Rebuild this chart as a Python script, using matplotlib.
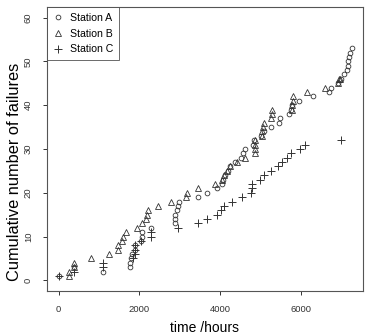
import numpy as np
import matplotlib
matplotlib.use("Agg")
import matplotlib.pyplot as plt

plt.rcParams['font.family'] = ['Liberation Sans', 'DejaVu Sans']

# station A (open circles)
a_hours = [0, 380, 1100, 1760, 1760, 1780, 1810, 1880, 1880, 2046, 2071, 2071, 2277,
           2870, 2875, 2890, 2940, 2965, 2970, 3449, 3672, 3919, 4030, 4066, 4110,
           4190, 4250, 4356, 4500, 4550, 4600, 4800, 4840, 5017, 5074, 5264, 5454,
           5487, 5693, 5760, 5784, 5948, 6295, 6690, 6740, 6900, 6990, 7054, 7130,
           7150, 7165, 7180, 7210, 7252]
a_fail = [1, 3, 2, 3, 4, 5, 6, 7, 8, 9, 10, 11, 12,
          13, 14, 15, 16, 17, 18, 19, 20, 21, 22, 23, 24,
          25, 26, 27, 28, 29, 30, 31, 32, 33, 34, 35, 36,
          37, 38, 39, 40, 41, 42, 43, 44, 45, 46, 47, 48,
          49, 50, 51, 52, 53]

# station B (open triangles)
b_hours = [250, 250, 380, 380, 792, 1246, 1468, 1468, 1576, 1592, 1675, 1948, 2071,
           2153, 2195, 2211, 2459, 2789, 3140, 3185, 3449, 3880, 4030, 4084, 4170,
           4240, 4400, 4611, 4850, 4850, 4855, 4860, 5030, 5040, 5057, 5070, 5264,
           5268, 5272, 5772, 5780, 5790, 5800, 6140, 6584, 6915, 6935, 6950]
b_fail = [1, 2, 3, 4, 5, 6, 7, 8, 9, 10, 11, 12, 13,
          14, 15, 16, 17, 18, 19, 20, 21, 22, 23, 24, 25,
          26, 27, 28, 29, 30, 31, 32, 33, 34, 35, 36, 37,
          38, 39, 39, 40, 41, 42, 43, 44, 45, 46, 46]

# station C (plus signs)
c_hours = [0, 380, 1100, 1100, 1840, 1880, 1880, 1880, 2046, 2294, 2294, 2954, 3449,
           3672, 3919, 4026, 4084, 4290, 4537, 4769, 4786, 4786, 4992, 5074, 5264,
           5428, 5536, 5652, 5759, 5965, 6089, 6980]
c_fail = [1, 2, 3, 4, 5, 6, 7, 8, 9, 10, 11, 12, 13,
          14, 15, 16, 17, 18, 19, 20, 21, 22, 23, 24, 25,
          26, 27, 28, 29, 30, 31, 32]

x_ticks = [0, 2000, 4000, 6000]
y_ticks = [0, 10, 20, 30, 40, 50, 60]

fig = plt.figure(figsize=(3.66, 3.34), dpi=100)
ax = fig.add_axes([0.128, 0.129, 0.864, 0.850])

pt_color = "#333333"
ax.plot(a_hours, a_fail, linestyle="none", marker="o", ms=3.4, mfc="none",
        mec=pt_color, mew=0.6, label="Station A")
ax.plot(b_hours, b_fail, linestyle="none", marker="^", ms=5, mfc="none",
        mec=pt_color, mew=0.6, label="Station B")
ax.plot(c_hours, c_fail, linestyle="none", marker="+", ms=6, mec=pt_color,
        mew=0.7, label="Station C")

ax.set_xlim(-290, 7530)
ax.set_ylim(-2.4, 62.4)
ax.set_xticks(x_ticks)
ax.set_yticks(y_ticks)
ax.tick_params(direction="out", length=3, width=0.7, colors="#333333",
               labelsize=6.8, pad=7)
for lab in ax.get_yticklabels():
    lab.set_rotation(90)
    lab.set_va("center")
for s in ax.spines.values():
    s.set_linewidth(0.8)
    s.set_color("#555555")

ax.set_xlabel("time /hours", fontsize=10, labelpad=5)
ax.set_ylabel("Cumulative number of failures", fontsize=11.8)
ax.yaxis.set_label_coords(-0.08, 0.42)

leg = ax.legend(loc="upper left", borderaxespad=0, fancybox=False, fontsize=7.6,
                handlelength=1.0, handletextpad=0.6, labelspacing=0.55,
                borderpad=0.55)
leg.get_frame().set_edgecolor("#444444")
leg.get_frame().set_linewidth(0.7)

fig.savefig("out.png", dpi=100)
